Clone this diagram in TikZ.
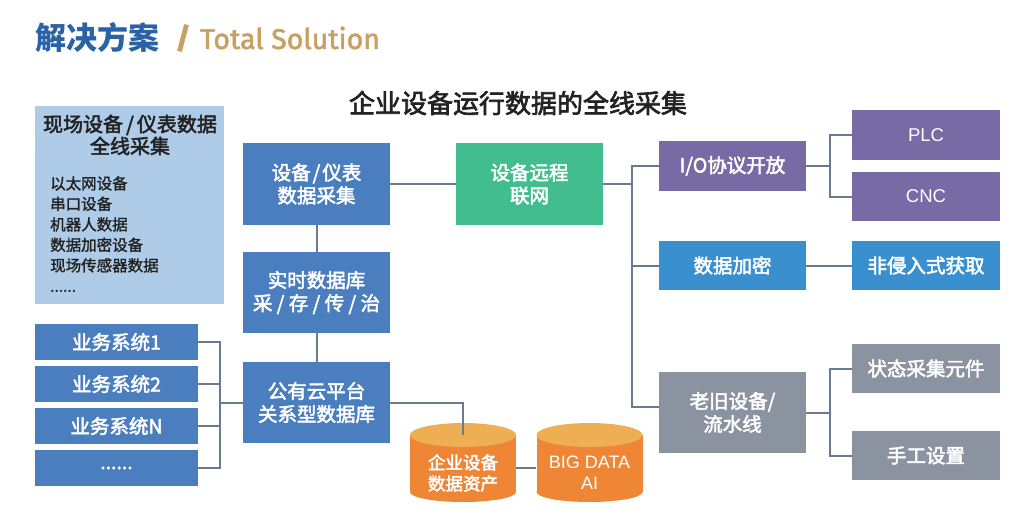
\documentclass[tikz,border=0pt]{standalone}
\usepackage{fontspec}
\setmainfont{Noto Sans CJK SC}
\newfontfamily\cjkm[FakeBold=2.5]{Noto Sans CJK SC}
\newfontfamily\cjkl[FakeBold=1.5]{Noto Sans CJK SC}
\newfontfamily\arialf{Liberation Sans}
\newfontfamily\firaf[FakeBold=2]{Fira Sans}
\definecolor{cblue}{HTML}{4A7EBF}
\definecolor{clight}{HTML}{AECBE8}
\definecolor{cgreen}{HTML}{41BD8F}
\definecolor{cpurple}{HTML}{786AA5}
\definecolor{cenc}{HTML}{3A8FCE}
\definecolor{cgray}{HTML}{8A939F}
\definecolor{corange}{HTML}{EF8636}
\definecolor{ctop}{HTML}{EEAE54}
\definecolor{lnc}{HTML}{687B90}
\definecolor{tblue}{HTML}{2A62A6}
\definecolor{gold}{HTML}{C9A064}
\definecolor{dark}{HTML}{222222}
\newcommand\mycyl[1]{%
  \fill[corange] (#1-53,435) rectangle (#1+53,492);
  \fill[corange] (#1,492) ellipse [x radius=53pt, y radius=10pt];
  \fill[ctop] (#1,435) ellipse [x radius=53pt, y radius=12pt];
}
\begin{document}
\begin{tikzpicture}[x=1pt,y=-1pt,
  bx/.style={rectangle, inner sep=0pt, text=white, align=center,
    font=\cjkm\fontsize{19.5}{23}\selectfont},
  lat/.style={rectangle, inner sep=0pt, text=white, align=center,
    font=\arialf\fontsize{18.5}{22}\selectfont},
  ln/.style={draw=lnc, line width=2pt},
  cylb/.style={rectangle, inner sep=0pt, minimum width=106, minimum height=66}]
\useasboundingbox (0,0) rectangle (1031,530);
\fill[white] (0,0) rectangle (1031,530);

% titles
\node[anchor=west, inner sep=0pt, text=tblue, font=\fontsize{31}{31}\selectfont\bfseries] (ttl) at (35,38) {解决方案};
\node[inner sep=0pt, text=gold, font=\firaf\fontsize{29}{29}\selectfont\bfseries] (sl) at (183,38) {/};
\node[anchor=west, inner sep=0pt, text=gold, font=\firaf\fontsize{28.5}{28.5}\selectfont] (ts) at (200,38) {Total Solution};
\node[inner sep=0pt, text=dark, font=\cjkm\fontsize{26}{26}\selectfont] (sub) at (518,103) {企业设备运行数据的全线采集};

% left info box
\node[rectangle, fill=clight, inner sep=0pt, minimum width=189, minimum height=198] (field) at (129.5,205) {};
\node[inner sep=0pt, align=center, text=dark, font=\cjkm\fontsize{20}{22}\selectfont] (fieldt) at (130,135) {现场设备\hspace{3pt}/\hspace{3pt}仪表数据\\全线采集};
\node[anchor=north west, inner sep=0pt, align=left, text=dark, font=\cjkl\fontsize{15.5}{20.5}\selectfont] (fieldl) at (50,176) {以太网设备\\串口设备\\机器人数据\\数据加密设备\\现场传感器数据\\......};

% central column
\node[bx, fill=cblue, minimum width=147, minimum height=82] (acq) at (316.5,184) {设备\hspace{2pt}/\hspace{2pt}仪表\\数据采集};
\node[bx, fill=cblue, minimum width=147, minimum height=81] (rtdb) at (316.5,292.5) {实时数据库\\采 / 存 / 传 / 治};
\node[bx, fill=cblue, minimum width=147, minimum height=81] (cloud) at (316.5,402.5) {公有云平台\\关系型数据库};

% business systems
\node[bx, fill=cblue, minimum width=163, minimum height=36] (biz1) at (116.5,342) {业务系统1};
\node[bx, fill=cblue, minimum width=163, minimum height=36] (biz2) at (116.5,384) {业务系统2};
\node[bx, fill=cblue, minimum width=163, minimum height=36] (biz3) at (116.5,426) {业务系统N};
\node[bx, fill=cblue, minimum width=163, minimum height=36] (biz4) at (116.5,468) {......};

% network
\node[bx, fill=cgreen, minimum width=147, minimum height=82] (net) at (529.5,184) {设备远程\\联网};

% right branches
\node[bx, fill=cpurple, minimum width=147, minimum height=50] (io) at (732.5,166) {I/O协议开放};
\node[lat, fill=cpurple, minimum width=148, minimum height=50] (plc) at (926,135) {PLC};
\node[lat, fill=cpurple, minimum width=148, minimum height=49] (cnc) at (926,196.5) {CNC};
\node[bx, fill=cenc, minimum width=147, minimum height=49] (enc) at (732.5,265.5) {数据加密};
\node[bx, fill=cenc, minimum width=148, minimum height=49] (nonin) at (926,265.5) {非侵入式获取};
\node[bx, fill=cgray, minimum width=147, minimum height=81] (old) at (732.5,412.5) {老旧设备/\\流水线};
\node[bx, fill=cgray, minimum width=148, minimum height=49] (state) at (926,368.5) {状态采集元件};
\node[bx, fill=cgray, minimum width=148, minimum height=49] (manual) at (926,455.5) {手工设置};

% cylinders
\mycyl{463}
\mycyl{589.5}
\node[cylb, label={[inner sep=0pt, align=center, text=white, font=\cjkm\fontsize{17.5}{21}\selectfont, yshift=-5pt]center:企业设备\\数据资产}] (db1) at (463,468) {};
\node[cylb, label={[inner sep=0pt, align=center, text=white, font=\arialf\fontsize{18}{21}\selectfont, yshift=-5pt]center:BIG DATA\\AI}] (db2) at (589.5,468) {};

% connectors
\coordinate (busL) at (220,402.5);
\coordinate (busR) at (632,184);
\coordinate (br1) at (830,166);
\coordinate (br2) at (830,412.5);
\coordinate (oldin) at ([yshift=5.5pt]old.west);
\draw[ln] (acq) -- (rtdb);
\draw[ln] (rtdb) -- (cloud);
\draw[ln] (acq) -- (net);
\draw[ln] (biz1.east) -- (biz1.east -| busL) -- (biz4.east -| busL) -- (biz4.east);
\draw[ln] (biz2.east) -- (biz2.east -| busL);
\draw[ln] (biz3.east) -- (biz3.east -| busL);
\draw[ln] (busL) -- (cloud.west);
\draw[ln] (cloud.east) -| (db1.north);
\draw[ln] (db1.east) -- (db2.west);
\draw[ln] (net.east) -- (busR);
\draw[ln] (io.west) -- (io.west -| busR) -- (busR |- oldin) -- (oldin);
\draw[ln] (enc.west) -- (enc.west -| busR);
\draw[ln] (io.east) -- (br1);
\draw[ln] (plc.west) -- (plc.west -| br1) -- (cnc.west -| br1) -- (cnc.west);
\draw[ln] (enc) -- (nonin);
\draw[ln] (old.east) -- (br2);
\draw[ln] (state.west) -- (state.west -| br2) -- (manual.west -| br2) -- (manual.west);
\end{tikzpicture}
\end{document}
